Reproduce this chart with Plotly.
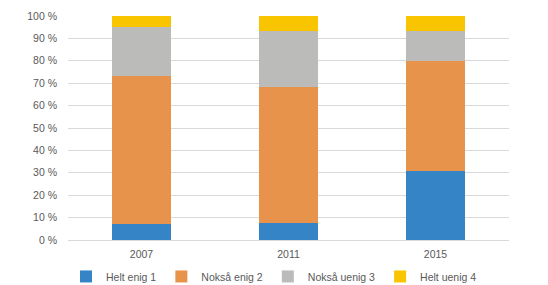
import plotly.graph_objects as go

years = ["2007", "2011", "2015"]
series_names = ["Helt enig 1", "Nokså enig 2", "Nokså uenig 3", "Helt uenig 4"]
helt_enig = [7.3, 7.7, 30.9]
noksa_enig = [65.9, 60.8, 49.2]
noksa_uenig = [22.0, 25.0, 13.4]
helt_uenig = [4.8, 6.5, 6.5]
colors = ["#3484C6", "#E7934C", "#BBBBBA", "#F9C400"]
y_ticks = [0, 10, 20, 30, 40, 50, 60, 70, 80, 90, 100]
y_tick_labels = [f"{v} %" for v in y_ticks]

fig = go.Figure()
for name, vals, col in zip(series_names, [helt_enig, noksa_enig, noksa_uenig, helt_uenig], colors):
    fig.add_trace(go.Bar(x=years, y=vals, name=name, marker=dict(color=col, line=dict(width=0)), width=0.4))

font = dict(family="Liberation Sans, Arial, sans-serif", size=10.5, color="#595959")
fig.update_layout(
    barmode="stack",
    width=548, height=285,
    margin=dict(l=68, r=39, t=16, b=45, autoexpand=False),
    plot_bgcolor="white", paper_bgcolor="white",
    font=font,
    showlegend=True,
    legend=dict(orientation="h", xref="container", x=0.5, xanchor="center",
                yref="container", y=0.03, yanchor="middle",
                font=font, traceorder="normal", itemwidth=30, entrywidth=0,
                tracegroupgap=0),
    xaxis=dict(showgrid=False, showline=False, ticks="", tickfont=font, ticklabelstandoff=6),
    yaxis=dict(range=[0, 100], tickvals=y_ticks, ticktext=y_tick_labels, showgrid=True,
               gridcolor="#D9D9D9", gridwidth=1, zeroline=True, zerolinecolor="#D9D9D9",
               zerolinewidth=1, showline=False, ticks="", tickfont=font, ticklabelstandoff=10),
)
fig.write_html("out.html", config={"displayModeBar": False},
               post_script="document.body.style.margin='0';")
